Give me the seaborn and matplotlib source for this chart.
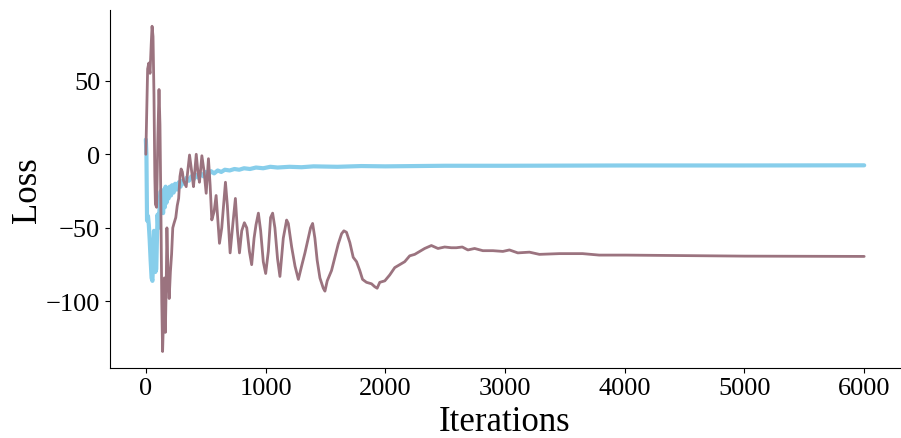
import numpy as np
import pandas as pd
import matplotlib
matplotlib.use('Agg')
import matplotlib.pyplot as plt
import seaborn as sns

# ------------------------------------------------------------
# 数据
# ------------------------------------------------------------
blue_iters = [0, 5, 10, 18, 25, 32, 40, 48, 55, 62, 68, 73, 79, 87, 92, 98,
              104, 110, 118, 125, 130, 137, 144, 151, 158, 165, 172, 180, 190,
              200, 210, 220, 232, 245, 260, 275, 290, 305, 320, 340, 360, 380,
              400, 420, 440, 460, 480, 500, 520, 545, 570, 600, 630, 660, 700,
              740, 780, 820, 870, 920, 980, 1040, 1100, 1200, 1300, 1400, 1600,
              1800, 2000, 2500, 3000, 4000, 5000, 6000]
blue_loss = [10, 0, -45, -42, -48, -58, -72, -84, -86, -70, -52, -60, -80, -78,
             -60, -41, -50, -45, -30, -25, -38, -26, -40, -24, -36, -22, -33,
             -24, -30, -22, -28, -21, -26, -20, -24, -19, -22, -18, -20, -16,
             -18, -15, -17, -14, -16, -13, -15, -12, -14, -11.5, -13, -11, -12,
             -10.5, -11, -10, -10.5, -9.5, -10, -9, -9.5, -8.5, -9, -8.5, -8.8,
             -8.2, -8.5, -8, -8.2, -7.8, -7.8, -7.6, -7.6, -7.5]

mauve_iters = [0, 8, 15, 25, 35, 45, 52, 60, 68, 75, 80, 90, 100, 110, 118,
               125, 133, 140, 148, 155, 163, 170, 176, 185, 195, 205, 215, 225,
               235, 250, 262, 274, 285, 295, 305, 315, 337, 348, 365, 385, 398,
               421, 435, 448, 468, 487, 504, 523, 537, 551, 570, 587, 615, 634,
               665, 681, 704, 726, 748, 765, 782, 801, 823, 843, 865, 884, 904,
               920, 940, 959, 981, 1001, 1023, 1042, 1059, 1078, 1100, 1120,
               1148, 1176, 1190, 1218, 1246, 1274, 1301, 1329, 1357, 1376, 1393,
               1412, 1431, 1454, 1482, 1496, 1515, 1551, 1579, 1607, 1635, 1654,
               1676, 1704, 1732, 1760, 1787, 1810, 1843, 1885, 1912, 1932, 1954,
               1996, 2037, 2079, 2121, 2162, 2204, 2246, 2287, 2329, 2385, 2440,
               2496, 2551, 2593, 2643, 2690, 2746, 2815, 2899, 2982, 3037, 3107,
               3204, 3287, 3454, 3648, 3787, 4010, 4288, 5000, 6000]
mauve_loss = [0, 30, 58, 62, 55, 75, 87, 80, 40, -15, -34, -36, 10, 44, 20,
              -30, -100, -134, -110, -84, -121, -90, -50, -80, -98, -80, -68,
              -50, -47, -43, -35, -30, -15, -10, -12, -18, -22, -13, -0.5, -13,
              -22, 0, -12, -19, -1, -12, -26.5, -3, -21, -44.6, -39, -28, -60.5,
              -50, -19, -35, -67, -48, -30, -52, -67, -52, -46.5, -50, -66, -75,
              -57, -48, -40, -52, -73, -81, -66, -43, -40, -50, -71, -83, -57,
              -44.7, -47, -63, -76, -85, -76, -67, -57, -50, -47, -57, -72, -84,
              -91, -93, -86, -79, -70, -61, -54, -52, -53, -60, -70, -73, -79,
              -85, -87, -88, -90, -91, -87, -86, -82, -77, -75, -73, -69, -68,
              -66, -64, -62, -64, -63, -63.5, -63.5, -63, -65, -64, -65.5, -65.5,
              -66, -65, -67, -66.5, -68, -67.5, -67.5, -68.5, -68.5, -68.7,
              -69.2, -69.4]

blue_color = '#87CEEB'
mauve_color = '#9B737F'

# ------------------------------------------------------------
# 绘图
# ------------------------------------------------------------
sns.set_style('ticks')
plt.rcParams['font.family'] = ['Liberation Serif', 'DejaVu Serif']
plt.rcParams['axes.unicode_minus'] = True
plt.rcParams['text.color'] = 'black'
plt.rcParams['axes.labelcolor'] = 'black'
plt.rcParams['xtick.color'] = 'black'
plt.rcParams['ytick.color'] = 'black'
plt.rcParams['axes.edgecolor'] = 'black'

df_blue = pd.DataFrame({'Iterations': blue_iters, 'Loss': blue_loss})
df_mauve = pd.DataFrame({'Iterations': mauve_iters, 'Loss': mauve_loss})

fig = plt.figure(figsize=(9.01, 4.39), dpi=100)
ax = fig.add_axes([0.122, 0.16, 0.877, 0.815])

sns.lineplot(data=df_blue, x='Iterations', y='Loss', ax=ax,
             color=blue_color, linewidth=3, estimator=None, sort=False)
sns.lineplot(data=df_mauve, x='Iterations', y='Loss', ax=ax,
             color=mauve_color, linewidth=2, estimator=None, sort=False)

ax.set_xlabel('Iterations', fontsize=25)
ax.set_ylabel('Loss', fontsize=25, labelpad=1)
ax.set_xticks([0, 1000, 2000, 3000, 4000, 5000, 6000])
ax.set_yticks([-100, -50, 0, 50])
ax.tick_params(axis='both', labelsize=19)
sns.despine(ax=ax)

plt.savefig('out.png', dpi=100)
